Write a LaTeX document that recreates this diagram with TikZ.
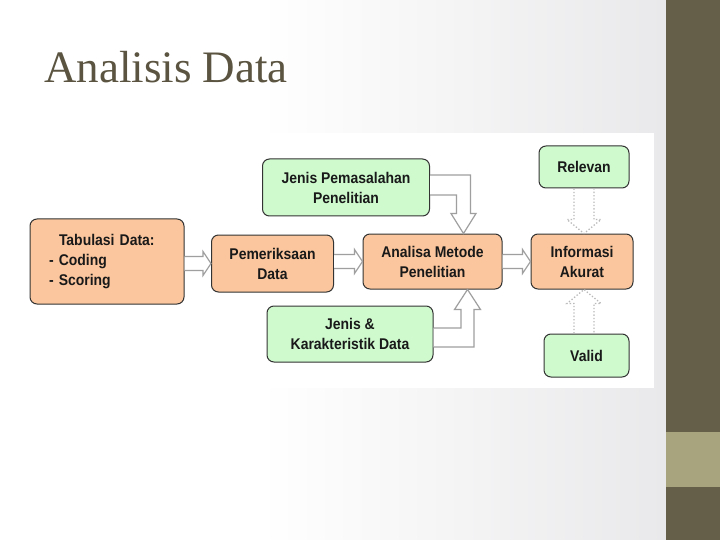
\documentclass[tikz,border=0pt]{standalone}
\usepackage{fontspec}
\setmainfont{Liberation Serif}
\newfontfamily\boxfont[FakeStretch=0.9]{Liberation Sans}
\usetikzlibrary{calc}
\definecolor{bandolive}{RGB}{101,94,72}
\definecolor{bandlight}{RGB}{168,164,126}
\definecolor{titlecol}{RGB}{90,84,64}
\definecolor{boxorange}{RGB}{251,198,157}
\definecolor{boxgreen}{RGB}{206,250,206}
\definecolor{bggray}{RGB}{233,233,235}
\begin{document}
\begin{tikzpicture}[x=1pt,y=-1pt,
  box/.style={draw=black!80,line width=1pt,rounded corners=7pt,align=center,
    font=\boxfont\bfseries\fontsize{15.5}{20}\selectfont,inner sep=0pt,text=black!90},
  orangebox/.style={box,fill=boxorange},
  greenbox/.style={box,fill=boxgreen},
  blk/.style={draw=gray!75,fill=white,line width=1.2pt,line join=miter},
  dotblk/.style={draw=gray!55,dotted,line width=1.3pt}]
\useasboundingbox (0,0) rectangle (720,540);
\fill[white] (0,0) rectangle (666,540);
\shade[left color=white,right color=bggray] (260,0) rectangle (666,540);
\fill[white] (218,133) rectangle (654,388);
\fill[bandolive] (666,0) rectangle (720,540);
\fill[bandlight] (666,432) rectangle (720,487);

\node[anchor=base west,text=titlecol,font=\fontsize{45}{50}\selectfont,inner sep=0pt] (title) at (44,83) {Analisis Data};

% boxes
\node[orangebox,minimum width=154pt,minimum height=85pt,text width=116pt,align=left] (tab) at (107,261.5)
  {\hspace*{10pt}Tabulasi Data:\\- Coding\\- Scoring};
\node[orangebox,minimum width=122pt,minimum height=57pt] (pem) at (272.5,263.5) {Pemeriksaan\\Data};
\node[greenbox,minimum width=167pt,minimum height=57pt] (jp) at (346,187.5) {Jenis Pemasalahan\\Penelitian};
\node[greenbox,minimum width=166pt,minimum height=56pt] (jk) at (350,334) {Jenis \&\\Karakteristik Data};
\node[orangebox,minimum width=139pt,minimum height=55pt] (am) at (432.5,261.5) {Analisa Metode\\Penelitian};
\node[orangebox,minimum width=102pt,minimum height=55pt] (inf) at (582,261.5) {Informasi\\Akurat};
\node[greenbox,minimum width=90pt,minimum height=42pt] (rel) at (584,167) {Relevan};
\node[greenbox,minimum width=85pt,minimum height=43pt] (val) at (586.5,355.5) {Valid};

% horizontal block arrows
\foreach \a/\b in {tab/pem,pem/am,am/inf}{
  \filldraw[blk] let \p1=(\a.east), \p2=(\b.west) in
    (\x1,\y2+7pt) -- (\x2-8pt,\y2+7pt) -- (\x2-8pt,\y2+12pt) -- (\x2,\y2)
    -- (\x2-8pt,\y2-12pt) -- (\x2-8pt,\y2-7pt) -- (\x1,\y2-7pt);
}
% elbow arrow from top
\filldraw[blk] let \p1=(jp.east), \p2=($(am.north east)+(-39,0)$) in
  (\x1,\y1+12.5pt) -- (\x2+7pt,\y1+12.5pt) -- (\x2+7pt,\y2+20pt) -- (\x2+12.5pt,\y2+20pt)
  -- (\x2,\y2) -- (\x2-12.5pt,\y2+20pt) -- (\x2-7pt,\y2+20pt) -- (\x2-7pt,\y1-7.5pt) -- (\x1,\y1-7.5pt);
% elbow arrow from bottom
\filldraw[blk] let \p1=(jk.east), \p2=($(am.south east)+(-35,0)$) in
  (\x1,\y1+6pt) -- (\x2-6.5pt,\y1+6pt) -- (\x2-6.5pt,\y2-20pt) -- (\x2-13pt,\y2-20pt)
  -- (\x2,\y2) -- (\x2+13pt,\y2-20pt) -- (\x2+6.5pt,\y2-20pt) -- (\x2+6.5pt,\y1-13pt) -- (\x1,\y1-13pt);
% dotted block arrows
\draw[dotblk] let \p1=(rel.south), \p2=(inf.north) in
  (\x1-10pt,\y1) -- (\x1-10pt,\y2+14pt) -- (\x1-17pt,\y2+14pt) -- (\x1,\y2)
  -- (\x1+17pt,\y2+14pt) -- (\x1+10pt,\y2+14pt) -- (\x1+10pt,\y1);
\draw[dotblk] let \p1=(val.north), \p2=(inf.south), \p3=($(rel.south)$) in
  (\x3-10pt,\y1) -- (\x3-10pt,\y2-14pt) -- (\x3-17pt,\y2-14pt) -- (\x3,\y2)
  -- (\x3+17pt,\y2-14pt) -- (\x3+10pt,\y2-14pt) -- (\x3+10pt,\y1);
\end{tikzpicture}
\end{document}
